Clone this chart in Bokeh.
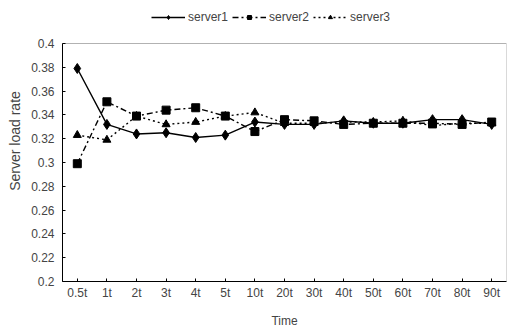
from bokeh.plotting import figure
from bokeh.models import (ColumnDataSource, FixedTicker, CustomJSTickFormatter, Legend, LegendItem,
                          Range1d, FactorRange, BoxAnnotation)
from bokeh.embed import file_html
from bokeh.resources import INLINE

times = ["0.5t", "1t", "2t", "3t", "4t", "5t", "10t", "20t", "30t", "40t", "50t", "60t", "70t", "80t", "90t"]
server1 = [0.379, 0.332, 0.324, 0.325, 0.321, 0.323, 0.334, 0.332, 0.332, 0.335, 0.333, 0.333, 0.336, 0.336, 0.332]
server2 = [0.299, 0.351, 0.339, 0.344, 0.346, 0.339, 0.326, 0.336, 0.335, 0.332, 0.333, 0.333, 0.333, 0.332, 0.334]
server3 = [0.323, 0.319, 0.339, 0.332, 0.334, 0.339, 0.342, 0.333, 0.333, 0.334, 0.334, 0.335, 0.331, 0.333, 0.333]
y_ticks = [0.2, 0.22, 0.24, 0.26, 0.28, 0.3, 0.32, 0.34, 0.36, 0.38, 0.4]
y_min, y_max = 0.2, 0.4

FONT = "Liberation Sans"

# frame spans the full height above the x axis; the top strip holds the legend
AXIS_PX = 238.0   # pixel height of the 0.2..0.4 span
TOP_PX = 43.0     # pixels of legend strip above 0.4
y_end = y_max + (y_max - y_min) * TOP_PX / AXIS_PX

p = figure(x_range=FactorRange(factors=times), y_range=Range1d(y_min, y_end),
           width=507, height=330, output_backend="svg", toolbar_location=None,
           min_border_left=62, min_border_right=1, min_border_top=0, min_border_bottom=49)
p.xgrid.visible = False
p.ygrid.visible = False
p.outline_line_color = None
p.background_fill_color = "white"
p.border_fill_color = "white"

p.add_layout(BoxAnnotation(bottom=y_min, top=y_max, fill_alpha=0, line_color="black", line_width=1))

src = ColumnDataSource(dict(t=times, s1=server1, s2=server2, s3=server3))

l1 = p.line("t", "s1", source=src, line_color="black", line_width=1.4)
m1 = p.scatter("t", "s1", source=src, marker="diamond", size=10, color="black")
l2 = p.line("t", "s2", source=src, line_color="black", line_width=1.4, line_dash="6 3 2 3")
m2 = p.scatter("t", "s2", source=src, marker="square", size=8, color="black")
l3 = p.line("t", "s3", source=src, line_color="black", line_width=1.4, line_dash="2 3")
m3 = p.scatter("t", "s3", source=src, marker="triangle", size=8, color="black")

legend = Legend(items=[LegendItem(label="server1", renderers=[l1, m1]),
                       LegendItem(label="server2", renderers=[l2, m2]),
                       LegendItem(label="server3", renderers=[l3, m3])],
                orientation="horizontal", location=(89, 257),
                label_text_font=FONT, label_text_font_size="12px",
                glyph_width=34, glyph_height=10, spacing=4, label_standoff=3,
                padding=0, margin=0, border_line_color=None, background_fill_alpha=0)
p.add_layout(legend)

p.yaxis.ticker = FixedTicker(ticks=y_ticks)
p.yaxis.bounds = (y_min, y_max)
p.yaxis.formatter = CustomJSTickFormatter(code="var s = tick.toFixed(2); s = s.replace(/0+$/, ''); return s.replace(/\\.$/, '');")
p.yaxis.axis_label = "Server load rate"
p.xaxis.axis_label = "Time"
for ax in (p.xaxis[0], p.yaxis[0]):
    ax.axis_label_text_font = FONT
    ax.axis_label_text_font_size = "12px"
    ax.axis_label_text_font_style = "normal"
    ax.major_label_text_font = FONT
    ax.major_label_text_font_size = "12px"
    ax.major_tick_in = 3
    ax.major_tick_out = 0
    ax.minor_tick_in = 0
    ax.minor_tick_out = 0
    ax.axis_line_color = "black"
    ax.major_tick_line_color = "black"
p.yaxis.axis_label_text_font_size = "14px"
p.yaxis.major_label_standoff = 8
p.yaxis.axis_label_standoff = 5
p.xaxis.major_label_standoff = 4
p.xaxis.axis_label_standoff = 11

open("out.html", "w").write(file_html(p, INLINE))
